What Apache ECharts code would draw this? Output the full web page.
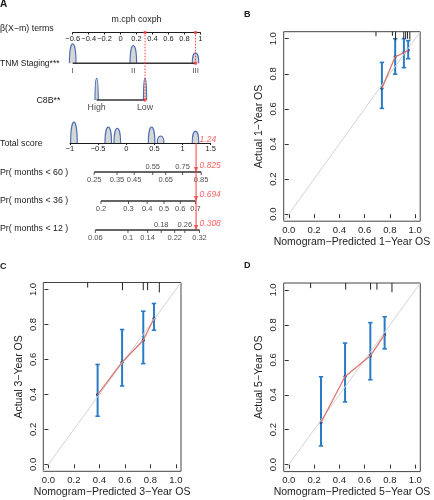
<!DOCTYPE html>
<html><head><meta charset="utf-8">
<script src="https://cdn.jsdelivr.net/npm/echarts@6/dist/echarts.min.js"></script>
<style>html,body{margin:0;padding:0;background:#fff}#c{width:434px;height:500px}</style>
</head><body><div id="c"></div>
<script>
// ---------- DATA ----------
// Nomogram (panel A)
const tnmLevels = ['I', 'II', 'III'];
const tnmBeta = [-0.6, 0.16, 0.94];
const tnmDensity = [0.63, 0.58, 0.34];
const c8bLevels = ['High', 'Low'];
const c8bBeta = [-0.3, 0.307];
const c8bDensity = [0.59, 0.59];
const patientTnmBeta = 0.94;
const patientC8bBeta = 0.307;
const totalHumpX = [-0.93, -0.32, -0.16, 0.45, 0.61, 1.23];
const totalHumpH = [0.72, 0.55, 0.51, 0.55, 0.24, 0.41];
const patientTotal = 1.24;
const pr60Labels = ['0.25', '0.35', '0.45', '0.55', '0.65', '0.75', '0.85'];
const pr60Pos = [-0.57, -0.165, 0.14, 0.47, 0.70, 1.0, 1.33];
const pr60Above = [0, 0, 0, 1, 0, 1, 0];
const pr36Labels = ['0.2', '0.3', '0.4', '0.5', '0.6', '0.7'];
const pr36Pos = [-0.45, 0.04, 0.37, 0.67, 0.96, 1.23];
const pr36Above = [0, 0, 0, 0, 0, 0];
const pr12Labels = ['0.06', '0.1', '0.14', '0.18', '0.22', '0.26', '0.32'];
const pr12Pos = [-0.55, 0.03, 0.38, 0.62, 0.86, 1.04, 1.3];
const pr12Above = [0, 0, 0, 1, 0, 1, 0];
const predictedValues = ['1.24', '0.825', '0.694', '0.308'];
const rowNames = ['Total score', 'Pr( months < 60 )', 'Pr( months < 36 )', 'Pr( months < 12 )'];

// Calibration (panels B, C, D)
const calTicks = [0, 0.2, 0.4, 0.6, 0.8, 1.0];
const b_pred = [0.737, 0.842, 0.911, 0.945];
const b_obs  = [0.717, 0.897, 0.920, 0.935];
const b_lo   = [0.603, 0.798, 0.835, 0.886];
const b_hi   = [0.865, 1.0, 1.0, 0.989];
const b_rugX = [0.69, 0.82, 0.845, 0.91, 0.925, 0.94, 0.958];
const b_rugH = [0.026, 0.023, 0.05, 0.04, 0.04, 0.04, 0.045];

const c_pred = [0.386, 0.578, 0.744, 0.828];
const c_obs  = [0.399, 0.584, 0.710, 0.834];
const c_lo   = [0.275, 0.448, 0.576, 0.767];
const c_hi   = [0.571, 0.771, 0.876, 0.920];
const c_rugX = [0.308, 0.581, 0.744, 0.778, 0.87];
const c_rugH = [0.029, 0.044, 0.044, 0.044, 0.057];

const d_pred = [0.255, 0.445, 0.645, 0.758];
const d_obs  = [0.241, 0.505, 0.623, 0.744];
const d_lo   = [0.107, 0.359, 0.486, 0.663];
const d_hi   = [0.503, 0.696, 0.813, 0.847];
const d_rugX = [0.173, 0.45, 0.647, 0.697, 0.816];
const d_rugH = [0.029, 0.038, 0.038, 0.038, 0.053];

// ---------- STYLE ----------
const FONT = '"Liberation Sans", Arial, Helvetica, sans-serif';
const RED = '#ff3b3b';
const HUMP = '#4a6db5';
const BLUE = '#2a7bc6';
const INK = '#1a1a1a';

function fmtNum(v) { return String(Math.round(v * 100) / 100).replace('-', '\u2212'); }

function humpRenderer(halfW, dir) {
  return function (params, api) {
    const x = api.value(0), h = api.value(1);
    const b = api.coord([x, 0]);
    const t = api.coord([x, dir * h]);
    const ph = b[1] - t[1];
    const cy = b[1] - ph * 4 / 3;
    const d = 'M' + (b[0] - halfW) + ' ' + b[1] + ' C' + (b[0] - halfW) + ' ' + cy + ' ' +
      (b[0] + halfW) + ' ' + cy + ' ' + (b[0] + halfW) + ' ' + b[1];
    return { type: 'path', shape: { pathData: d },
      style: { fill: 'rgba(200,200,200,0.75)', stroke: HUMP, lineWidth: 1.1 } };
  };
}
function errRenderer(params, api) {
  const x = api.value(0), y = api.value(1), lo = api.value(2), hi = api.value(3);
  const p = api.coord([x, y]), a = api.coord([x, lo]), b = api.coord([x, hi]);
  const cw = 2.2;
  return { type: 'group', children: [
    { type: 'line', shape: { x1: a[0], y1: a[1], x2: b[0], y2: b[1] }, style: { stroke: BLUE, lineWidth: 2 } },
    { type: 'line', shape: { x1: a[0] - cw, y1: a[1], x2: a[0] + cw, y2: a[1] }, style: { stroke: BLUE, lineWidth: 1.6 } },
    { type: 'line', shape: { x1: b[0] - cw, y1: b[1], x2: b[0] + cw, y2: b[1] }, style: { stroke: BLUE, lineWidth: 1.6 } },
    { type: 'circle', shape: { cx: p[0], cy: p[1], r: 1.6 }, style: { fill: '#1b4f9a' } }
  ] };
}
function rugRenderer(params, api) {
  const x = api.value(0), h = api.value(1);
  const t = api.coord([x, 1.04]), b = api.coord([x, 1.04 - h]);
  return { type: 'line', shape: { x1: t[0], y1: t[1], x2: b[0], y2: b[1] }, style: { stroke: '#222', lineWidth: 1 } };
}

// ---------- AXES ----------
const hiddenX = (gi, min, max) => ({ gridIndex: gi, type: 'value', min, max, show: false });
const hiddenY = (gi, min, max, inverse) => ({ gridIndex: gi, type: 'value', min, max, inverse: !!inverse, show: false });

function calX(gi, name) {
  return { gridIndex: gi, type: 'value', min: -0.04, max: 1.04,
    axisLine: { show: false }, splitLine: { show: false },
    axisTick: { show: true, customValues: calTicks, length: 4, lineStyle: { color: '#333' } },
    axisLabel: { customValues: calTicks, formatter: v => v.toFixed(1), margin: 4, fontSize: 9.5, color: '#222', fontFamily: FONT },
    name, nameLocation: 'middle', nameGap: 15,
    nameTextStyle: { fontSize: 10.5, color: '#222', fontFamily: FONT } };
}
function calY(gi, name) {
  return { gridIndex: gi, type: 'value', min: -0.04, max: 1.04,
    axisLine: { show: false }, splitLine: { show: false },
    axisTick: { show: true, customValues: calTicks, length: 4, lineStyle: { color: '#333' } },
    axisLabel: { customValues: calTicks, formatter: v => v.toFixed(1), margin: 5, rotate: 90, fontSize: 9.5, color: '#222', fontFamily: FONT },
    name, nameLocation: 'middle', nameGap: 19, nameRotate: 90,
    nameTextStyle: { fontSize: 10.5, color: '#222', fontFamily: FONT } };
}

const xAxis = [
  { gridIndex: 0, type: 'value', position: 'top', min: -0.6, max: 1, interval: 0.2,
    axisLine: { show: true, onZero: false, lineStyle: { color: INK, width: 1 } },
    axisTick: { show: true, inside: true, length: 2, lineStyle: { color: INK } },
    axisLabel: { inside: true, margin: 2, fontSize: 7.5, fontFamily: FONT, color: INK, formatter: fmtNum },
    splitLine: { show: false },
    name: 'm.cph coxph', nameLocation: 'middle', nameGap: 8,
    nameTextStyle: { fontSize: 8.8, fontFamily: FONT, color: INK } },
  hiddenX(1, -0.6, 1),
  { gridIndex: 2, type: 'value', position: 'top', min: -1, max: 1.5, interval: 0.5,
    axisLine: { show: true, onZero: false, lineStyle: { color: INK, width: 1 } },
    axisTick: { show: true, inside: true, length: 2, lineStyle: { color: INK } },
    axisLabel: { inside: true, margin: 2, fontSize: 7.5, fontFamily: FONT, color: INK, formatter: fmtNum },
    splitLine: { show: false } },
  calX(3, 'Nomogram\u2212Predicted 1\u2212Year OS'),
  calX(4, 'Nomogram\u2212Predicted 3\u2212Year OS'),
  calX(5, 'Nomogram\u2212Predicted 5\u2212Year OS')
];
const yAxis = [
  hiddenY(0, 0, 1), hiddenY(1, 0, 1), hiddenY(2, 0, 3, true),
  calY(3, 'Actual 1\u2212Year OS'), calY(4, 'Actual 3\u2212Year OS'), calY(5, 'Actual 5\u2212Year OS')
];
const calGrid = (l, t, w, h) => ({ left: l, top: t, width: w, height: h, show: true,
  borderColor: '#444', borderWidth: 1, backgroundColor: 'rgba(0,0,0,0)' });
const grid = [
  { left: 72.7, top: 32.5, width: 127.6, height: 30.8 },
  { left: 72.7, top: 63.3, width: 127.6, height: 36.7 },
  { left: 70, top: 143, width: 140.7, height: 87 },
  calGrid(283.7, 31.7, 136.5, 189.5),
  calGrid(43.3, 282.5, 137.7, 188.8),
  calGrid(283.7, 283, 136.6, 188.6)
];

// ---------- SERIES ----------
const series = [];
const base = { animation: false, silent: true };
function lineSeg(xi, yi, data, color, width, type) {
  series.push(Object.assign({ type: 'line', xAxisIndex: xi, yAxisIndex: yi, data, symbol: 'none', clip: false,
    lineStyle: { color, width, type: type || 'solid' } }, base));
}
function dots(xi, yi, data, color, size) {
  series.push(Object.assign({ type: 'scatter', xAxisIndex: xi, yAxisIndex: yi, data, symbolSize: size,
    itemStyle: { color } , z: 5}, base));
}
function textMarks(xi, yi, data, pos, dist, size, color, italic) {
  series.push(Object.assign({ type: 'scatter', xAxisIndex: xi, yAxisIndex: yi, data, symbolSize: 0,
    label: { show: true, position: pos, distance: dist, formatter: '{b}', fontSize: size, fontFamily: FONT,
      color: color || INK, fontStyle: italic ? 'italic' : 'normal' } }, base));
}

// TNM row (grid 0)
series.push(Object.assign({ type: 'custom', xAxisIndex: 0, yAxisIndex: 0,
  data: tnmBeta.map((b, i) => [b, tnmDensity[i]]), renderItem: humpRenderer(3.3, 1) }, base));
lineSeg(0, 0, [[tnmBeta[0], 0], [tnmBeta[tnmBeta.length - 1], 0]], '#333', 1.6);
textMarks(0, 0, tnmBeta.map((b, i) => ({ value: [b, 0], name: tnmLevels[i] })), 'bottom', 3, 8);
lineSeg(0, 0, [[patientTnmBeta, 0], [patientTnmBeta, 1]], RED, 1, [1.5, 1.5]);
lineSeg(0, 0, [[patientC8bBeta, 0], [patientC8bBeta, 1]], RED, 1, [1.5, 1.5]);
dots(0, 0, [[patientTnmBeta, 0], [patientTnmBeta, 1], [patientC8bBeta, 1]], RED, 3.5);

// C8B row (grid 1)
series.push(Object.assign({ type: 'custom', xAxisIndex: 1, yAxisIndex: 1,
  data: c8bBeta.map((b, i) => [b, c8bDensity[i]]), renderItem: humpRenderer(1.6, 1) }, base));
lineSeg(1, 1, [[c8bBeta[0], 0], [c8bBeta[c8bBeta.length - 1], 0]], '#333', 1.6);
textMarks(1, 1, c8bBeta.map((b, i) => ({ value: [b, 0], name: c8bLevels[i] })), 'bottom', 3, 8.8);
lineSeg(1, 1, [[patientC8bBeta, 0], [patientC8bBeta, 1]], RED, 1, [1.5, 1.5]);
dots(1, 1, [[patientC8bBeta, 0]], RED, 3.5);

// Total score + probability rows (grid 2)
series.push(Object.assign({ type: 'custom', xAxisIndex: 2, yAxisIndex: 2,
  data: totalHumpX.map((x, i) => [x, totalHumpH[i]]), renderItem: humpRenderer(3.3, -1) }, base));
const probRows = [
  { pos: pr60Pos, labels: pr60Labels, above: pr60Above, row: 1 },
  { pos: pr36Pos, labels: pr36Labels, above: pr36Above, row: 2 },
  { pos: pr12Pos, labels: pr12Labels, above: pr12Above, row: 3 }
];
const tickData = [], belowData = [], aboveData = [];
probRows.forEach(r => {
  lineSeg(2, 2, [[r.pos[0], r.row], [r.pos[r.pos.length - 1], r.row]], '#333', 1.3);
  r.pos.forEach((p, i) => {
    tickData.push([p, r.row]);
    (r.above[i] ? aboveData : belowData).push({ value: [p, r.row], name: r.labels[i] });
  });
});
series.push(Object.assign({ type: 'scatter', xAxisIndex: 2, yAxisIndex: 2, data: tickData, symbol: 'rect',
  symbolSize: [0.9, 3], symbolOffset: [0, 1.5], itemStyle: { color: INK } }, base));
textMarks(2, 2, belowData, 'bottom', 3.5, 7.5);
textMarks(2, 2, aboveData, 'top', 1.5, 7.5);
lineSeg(2, 2, [[patientTotal, 0], [patientTotal, 3]], RED, 1);
series.push(Object.assign({ type: 'scatter', xAxisIndex: 2, yAxisIndex: 2,
  data: [[patientTotal, 1], [patientTotal, 2], [patientTotal, 3]], symbol: 'triangle', symbolRotate: 180,
  symbolSize: [4.5, 5], symbolOffset: [0, -2.5], itemStyle: { color: RED }, z: 5 }, base));
series.push(Object.assign({ type: 'scatter', xAxisIndex: 2, yAxisIndex: 2, symbolSize: 0,
  data: predictedValues.map((v, i) => ({ value: [patientTotal, i], name: v,
    label: { position: [3.5, i === 0 ? -3.5 : -6] } })),
  label: { show: true, formatter: '{b}', align: 'left', verticalAlign: 'middle', fontSize: 8.5,
    fontFamily: FONT, fontStyle: 'italic', color: RED } }, base));

// Calibration plots
function calSeries(gi, pred, obs, lo, hi, rugX, rugH) {
  lineSeg(gi, gi, [[-0.04, -0.04], [1.04, 1.04]], '#d2d2d2', 1);
  series[series.length - 1].clip = true;
  series.push(Object.assign({ type: 'line', xAxisIndex: gi, yAxisIndex: gi, data: pred.map((x, i) => [x, obs[i]]),
    symbol: 'none', lineStyle: { color: '#d9776f', width: 1.3 } }, base));
  series.push(Object.assign({ type: 'custom', xAxisIndex: gi, yAxisIndex: gi,
    data: pred.map((x, i) => [x, obs[i], lo[i], hi[i]]), renderItem: errRenderer }, base));
  series.push(Object.assign({ type: 'custom', xAxisIndex: gi, yAxisIndex: gi,
    data: rugX.map((x, i) => [x, rugH[i]]), renderItem: rugRenderer }, base));
}
calSeries(3, b_pred, b_obs, b_lo, b_hi, b_rugX, b_rugH);
calSeries(4, c_pred, c_obs, c_lo, c_hi, c_rugX, c_rugH);
calSeries(5, d_pred, d_obs, d_lo, d_hi, d_rugX, d_rugH);

// ---------- TEXT ----------
function txt(text, x, y, size, weight) {
  return { type: 'text', x, y, silent: true,
    style: { text, fill: INK, font: (weight || 'normal') + ' ' + size + 'px ' + FONT,
      verticalAlign: 'middle', textVerticalAlign: 'middle', align: 'left', textAlign: 'left' } };
}
const graphic = [
  txt('A', 0, 3.8, 10, 'bold'), txt('B', 244, 14.5, 9, 'bold'),
  txt('C', 0, 266.3, 9, 'bold'), txt('D', 244, 265.7, 9, 'bold'),
  txt('\u03b2(X\u2212m) terms', 0, 28.3, 8.8),
  txt('TNM Staging***', 0, 64, 8.5),
  txt('C8B**', 36.5, 101, 8.8),
  txt(rowNames[0], 0, 143.3, 8.8),
  txt(rowNames[1], 0, 172.3, 8.8),
  txt(rowNames[2], 0, 200.7, 8.8),
  txt(rowNames[3], 0, 229, 8.8)
];

const chart = echarts.init(document.getElementById('c'), null, { renderer: 'canvas' });
chart.setOption({ animation: false, backgroundColor: '#fff', grid, xAxis, yAxis, series, graphic });
</script></body></html>
